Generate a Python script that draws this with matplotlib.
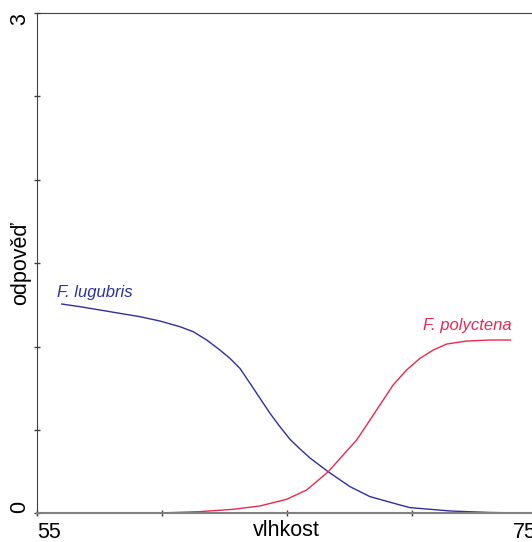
import matplotlib
matplotlib.use('Agg')
import matplotlib.pyplot as plt

plt.rcParams['font.family'] = ['Liberation Sans', 'DejaVu Sans']

# response curves
lug_x = [56.0, 56.73, 57.53, 58.33, 59.13, 59.93, 60.73, 61.26, 61.80, 62.33,
         62.73, 63.13, 63.53, 63.93, 64.33, 64.73, 65.13, 65.53, 65.93, 66.66,
         67.53, 68.33, 69.53, 69.93, 71.53, 72.20, 73.13, 73.95]
lug_y = [1.255, 1.239, 1.219, 1.199, 1.179, 1.153, 1.119, 1.089, 1.039, 0.979,
         0.929, 0.869, 0.780, 0.690, 0.600, 0.519, 0.444, 0.386, 0.332, 0.249,
         0.160, 0.100, 0.050, 0.034, 0.014, 0.010, 0.005, 0.003]

pol_x = [56.0, 59.93, 61.53, 62.86, 63.93, 65.00, 65.80, 66.66, 67.26, 67.80,
         68.33, 68.73, 69.26, 69.80, 70.33, 70.86, 71.40, 72.20, 73.13, 73.95]
pol_y = [0.0, 0.002, 0.010, 0.024, 0.044, 0.084, 0.140, 0.249, 0.350, 0.440,
         0.559, 0.650, 0.770, 0.860, 0.929, 0.979, 1.015, 1.033, 1.039, 1.039]

blue = '#2f2fa0'
red = '#e8294f'

fig = plt.figure(figsize=(5.32, 5.42), dpi=100)
W, H = 532, 542
left_px, right_px, top_px, bot_px = 36.7, 546.6, 13, 513.3
ax = fig.add_axes([left_px / W, (H - bot_px) / H,
                   (right_px - left_px) / W, (bot_px - top_px) / H])

ax.plot(lug_x, lug_y, color=blue, lw=1.0, solid_joinstyle='round')
ax.plot(pol_x, pol_y, color=red, lw=1.0, solid_joinstyle='round')

ax.text(55.80, 1.30, 'F. lugubris', color=blue, style='italic', fontsize=12)
ax.text(70.45, 1.10, 'F. polyctena', color=red, style='italic', fontsize=12)

ax.set_xlim(55, 55 + (right_px - left_px) / 25.0)
ax.set_ylim(0, 3)

ax.spines['right'].set_visible(False)
ax.spines['left'].set_color('#404040')
ax.spines['top'].set_color('#404040')
ax.spines['bottom'].set_color('#808080')
ax.spines['bottom'].set_linewidth(1.5)

ax.set_xticks([55, 60, 65, 70, 75])
ax.set_xticklabels(['55', '', '', '', '75'], fontsize=15.5)
xl = ax.get_xticklabels()
xl[0].set_ha('left')
xl[-1].set_ha('right')
ax.set_yticks([0, 0.5, 1, 1.5, 2, 2.5, 3])
ax.set_yticklabels(['0', '', '', '', '', '', '3'], fontsize=15.5, rotation=90)
yl = ax.get_yticklabels()
yl[0].set_va('bottom')
yl[-1].set_va('top')
ax.tick_params(axis='both', direction='inout', length=4, width=1, colors='#404040',
               labelcolor='black')
ax.tick_params(axis='x', pad=4)
ax.tick_params(axis='y', pad=3)

ax.set_xlabel('vlhkost', fontsize=15.5, va='top')
ax.xaxis.set_label_coords((286.7 - left_px) / (right_px - left_px), -0.014)
ax.set_ylabel('odpověď', fontsize=15.5, va='center')
ax.yaxis.set_label_coords(-0.031, 0.5)

plt.savefig('out.png', dpi=100)
